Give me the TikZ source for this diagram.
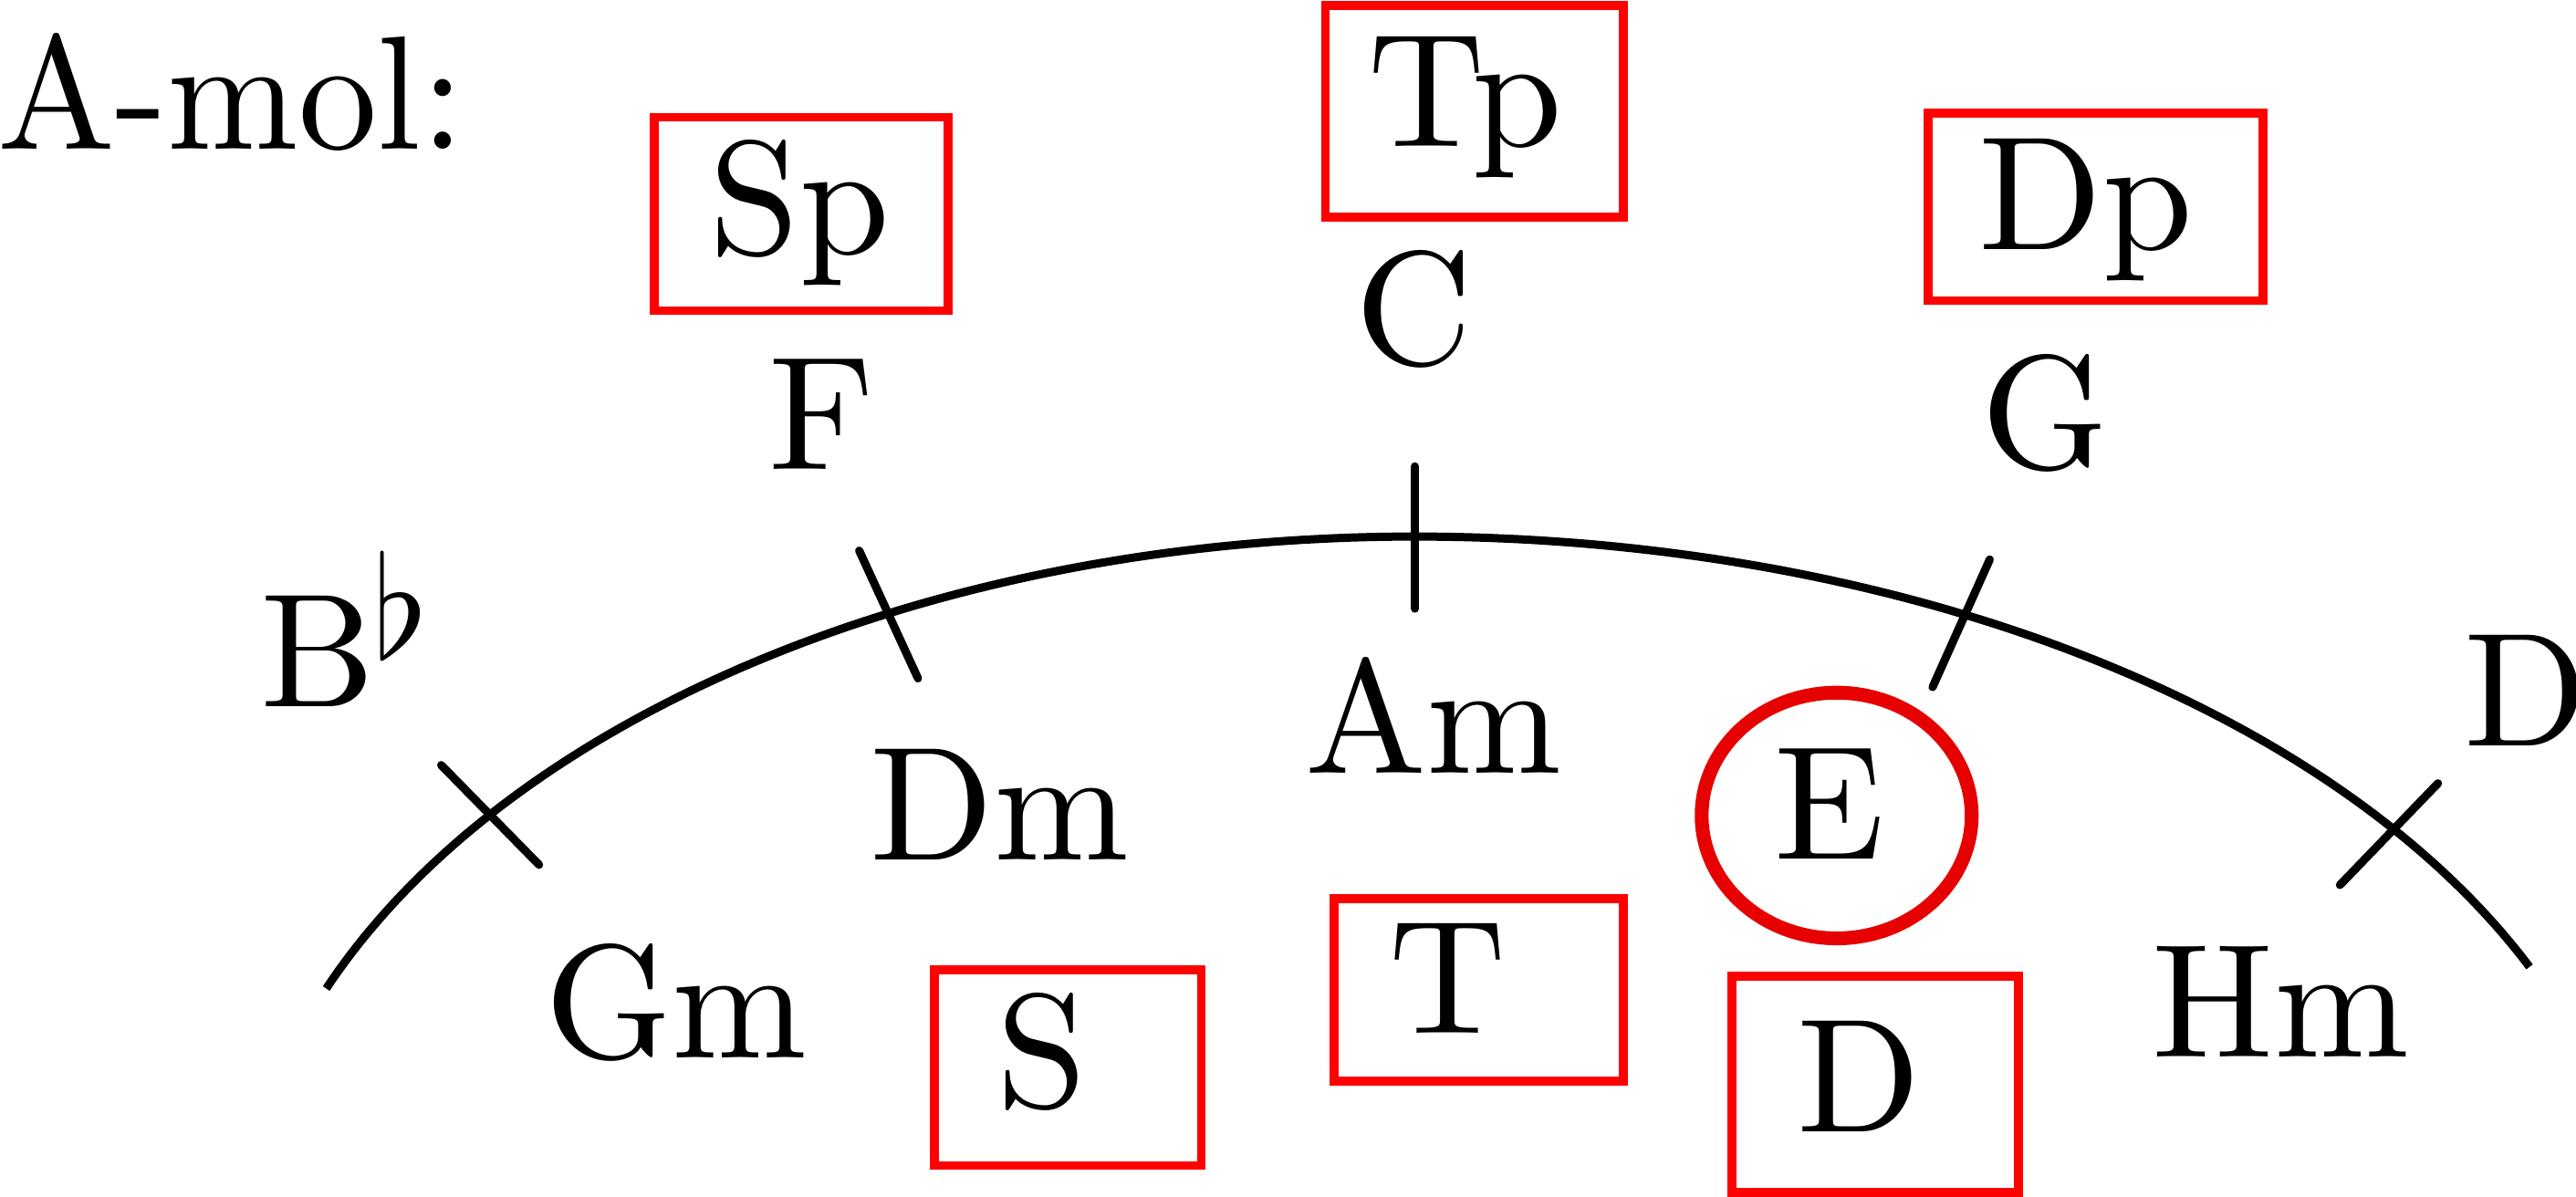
\documentclass[tikz,border=0pt]{standalone}
\usepackage{fontspec}
\setmainfont{lmroman10-regular.otf}
\usepackage{graphicx}
\usetikzlibrary{shapes.geometric}
\definecolor{boxred}{RGB}{255,0,0}
\definecolor{ringred}{RGB}{230,0,0}
\begin{document}
\begin{tikzpicture}[x=0.5pt,y=-0.5pt,
  lbl/.style={inner sep=0pt, outer sep=0pt, font=\fontsize{49.3}{59}\selectfont, anchor=base},
  lblw/.style={lbl, anchor=base west},
  redbox/.style={draw=boxred, line width=2.7pt, inner sep=0pt, rectangle},
  redring/.style={draw=ringred, line width=4.2pt, inner sep=0pt, ellipse},
  arcline/.style={line width=2.5pt},
  tickline/.style={line width=2.5pt, line cap=round}]
\useasboundingbox (0,0) rectangle (1568.33,728.89);

% labels
\node[lblw] (amol) at (-1.5,91) {\scalebox{0.97}[1]{A-mol:}};
\node[lbl] (Sp) at (487,154.5) {Sp};
\node[lbl] (F) at (500,286) {F};
\node[lbl] (Tp) at (892,89.3) {Tp};
\node[lbl] (C) at (861,222) {C};
\node[lbl] (Dp) at (1270,152) {Dp};
\node[lbl] (G) at (1245,285.5) {G};
\node[lblw] (Bb) at (158.7,430.5) {B\kern-0.8pt\raisebox{14.7pt}{\scalebox{4.35}{\normalsize$\flat$}}};
\node[lblw] (Dm) at (529.8,523.4) {Dm};
\node[lblw] (Am) at (794.6,471) {Am};
\node[lblw] (E) at (1080.5,523.3) {E};
\node[lblw] (Dmaj) at (1500.4,454.2) {D};
\node[lblw] (Gm) at (331.8,644) {Gm};
\node[lbl] (S) at (634.5,674) {S};
\node[lbl] (T) at (881.6,629.1) {T};
\node[lblw] (Dd) at (1094.4,689.4) {D};
\node[lblw] (Hm) at (1310.5,643.6) {Hm};

% red frames
\node[redbox, minimum width=89.4pt, minimum height=58.9pt] (boxSp) at (487.8,130.3) {};
\node[redbox, minimum width=90.65pt, minimum height=64.4pt] (boxTp) at (897.6,67.75) {};
\node[redbox, minimum width=102.05pt, minimum height=57.15pt] (boxDp) at (1275.8,125.9) {};
\node[redbox, minimum width=81.35pt, minimum height=59.6pt] (boxS) at (650.1,650.05) {};
\node[redbox, minimum width=88pt, minimum height=55.5pt] (boxT) at (900.25,602.75) {};
\node[redbox, minimum width=87.2pt, minimum height=65.85pt] (boxD) at (1141.55,660.3) {};
\node[redring, minimum width=82.2pt, minimum height=74.8pt] (ringE) at (1118.2,496.6) {};

% arc
\draw[arcline] plot[domain=202.35:270, samples=90] ({861+716.2*cos(\x)},{770.8+444.1*sin(\x)})
  -- plot[domain=270:335.8, samples=90] ({861+744.5*cos(\x)},{770.8+444.1*sin(\x)});

% ticks
\coordinate (t1a) at (268.6,465.9);  \coordinate (t1b) at (328.2,526.6);
\coordinate (t2a) at (523.1,335.3);  \coordinate (t2b) at (558.9,413.1);
\coordinate (t3a) at (861.5,284);    \coordinate (t3b) at (861.5,370.6);
\coordinate (t4a) at (1211.4,340.7); \coordinate (t4b) at (1176.6,418.4);
\coordinate (t5a) at (1484.3,477);   \coordinate (t5b) at (1424.6,538.9);
\draw[tickline] (t1a) -- (t1b);
\draw[tickline] (t2a) -- (t2b);
\draw[tickline] (t3a) -- (t3b);
\draw[tickline] (t4a) -- (t4b);
\draw[tickline] (t5a) -- (t5b);
\end{tikzpicture}
\end{document}
